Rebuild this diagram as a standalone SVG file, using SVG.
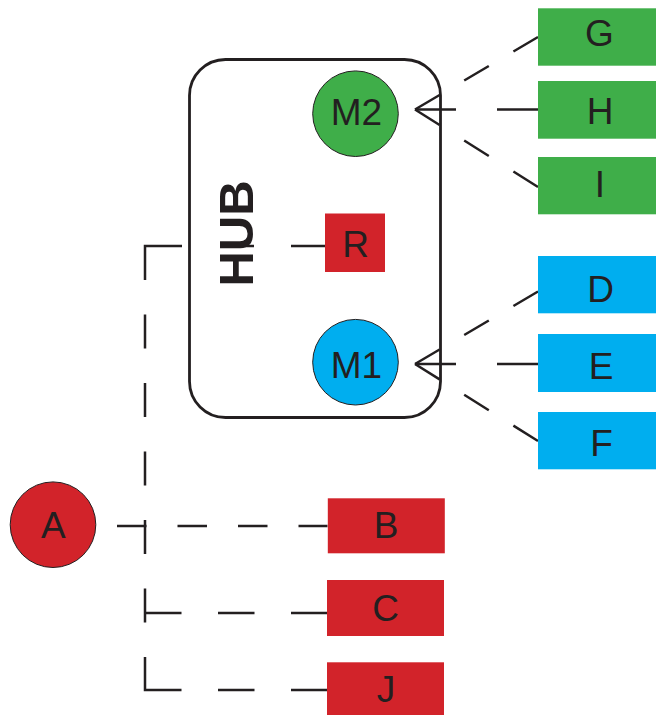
<svg xmlns="http://www.w3.org/2000/svg" width="656" height="715" viewBox="0 0 656 715">
<style>
.lbl{font-family:"Liberation Sans",Arial,sans-serif;font-size:37px;fill:#231f20;text-anchor:middle}
.hub{font-family:"Liberation Sans",Arial,sans-serif;font-size:49px;font-weight:bold;fill:#231f20;text-anchor:middle}
.c{fill:none;stroke:#231f20;stroke-width:2.5;stroke-linejoin:miter}
.red{fill:#d2232a}
.green{fill:#3fae49}
.blue{fill:#00aeef}
.circ{stroke:#231f20;stroke-width:1}
</style>
<rect x="0" y="0" width="656" height="715" fill="#ffffff"/>
<g id="connectors">
  <!-- M2 fan -->
  <path class="c" d="M415 109.5 L538 37" stroke-dasharray="28.56 28.56"/>
  <path class="c" d="M415 109.5 L538 109.5" stroke-dasharray="41 41"/>
  <path class="c" d="M415 109.5 L538 187" stroke-dasharray="29.08 29.08"/>
  <!-- M1 fan -->
  <path class="c" d="M415 364 L538 291.5" stroke-dasharray="28.56 28.56"/>
  <path class="c" d="M415 364 L538 364" stroke-dasharray="41 41"/>
  <path class="c" d="M415 364 L538 441" stroke-dasharray="29.02 29.02"/>
  <!-- R to left trunk -->
  <path class="c" d="M325 246 H219" stroke-dasharray="34 37"/>
  <path class="c" d="M182 246 H145 V280"/>
  <path class="c" d="M145 314.5 V623" stroke-dasharray="34 34.5"/>
  <!-- A to B -->
  <path class="c" d="M117 526 H327.5" stroke-dasharray="29.5 31"/>
  <!-- trunk to C -->
  <path class="c" d="M145 613 H327.5" stroke-dasharray="36.5 36.5"/>
  <!-- trunk to J -->
  <path class="c" d="M145 657 V690 H181.5"/>
  <path class="c" d="M218 690 H327.5" stroke-dasharray="36.5 36.5"/>
</g>
<g id="hub">
  <rect x="189.5" y="59.5" width="251" height="358" rx="36" ry="36" fill="none" stroke="#231f20" stroke-width="2.8"/>
  <text class="hub" transform="translate(253,233.5) rotate(-90)">HUB</text>
</g>
<g id="M2">
  <circle class="green circ" cx="355.5" cy="113.7" r="42.8"/>
  <text class="lbl" x="356.5" y="125">M2</text>
</g>
<g id="M1">
  <circle class="blue circ" cx="355.5" cy="362.2" r="42.8"/>
  <text class="lbl" x="356.5" y="377.7">M1</text>
</g>
<g id="R">
  <rect class="red" x="325" y="213.5" width="60" height="58.5"/>
  <text class="lbl" x="355.5" y="256.5">R</text>
</g>
<g id="G">
  <rect class="green" x="538" y="8.3" width="122" height="57.4"/>
  <text class="lbl" x="599.5" y="46.3">G</text>
</g>
<g id="H">
  <rect class="green" x="538" y="81" width="122" height="57.7"/>
  <text class="lbl" x="600" y="124">H</text>
</g>
<g id="I">
  <rect class="green" x="538" y="157" width="122" height="57.3"/>
  <text class="lbl" x="600" y="196.5">I</text>
</g>
<g id="D">
  <rect class="blue" x="538" y="256" width="122" height="57.3"/>
  <text class="lbl" x="600.5" y="301.5">D</text>
</g>
<g id="E">
  <rect class="blue" x="538" y="334" width="122" height="58"/>
  <text class="lbl" x="601" y="379">E</text>
</g>
<g id="F">
  <rect class="blue" x="538" y="412" width="122" height="57.3"/>
  <text class="lbl" x="601.5" y="456">F</text>
</g>
<g id="A">
  <circle class="red circ" cx="53" cy="524.7" r="42.8"/>
  <text class="lbl" x="53.3" y="537.5">A</text>
</g>
<g id="B">
  <rect class="red" x="327.8" y="498.3" width="117" height="55"/>
  <text class="lbl" x="386" y="538">B</text>
</g>
<g id="C">
  <rect class="red" x="327" y="580" width="117" height="56"/>
  <text class="lbl" x="385.5" y="620.5">C</text>
</g>
<g id="J">
  <rect class="red" x="327" y="662.3" width="117" height="56"/>
  <text class="lbl" x="386" y="702">J</text>
</g>
</svg>
